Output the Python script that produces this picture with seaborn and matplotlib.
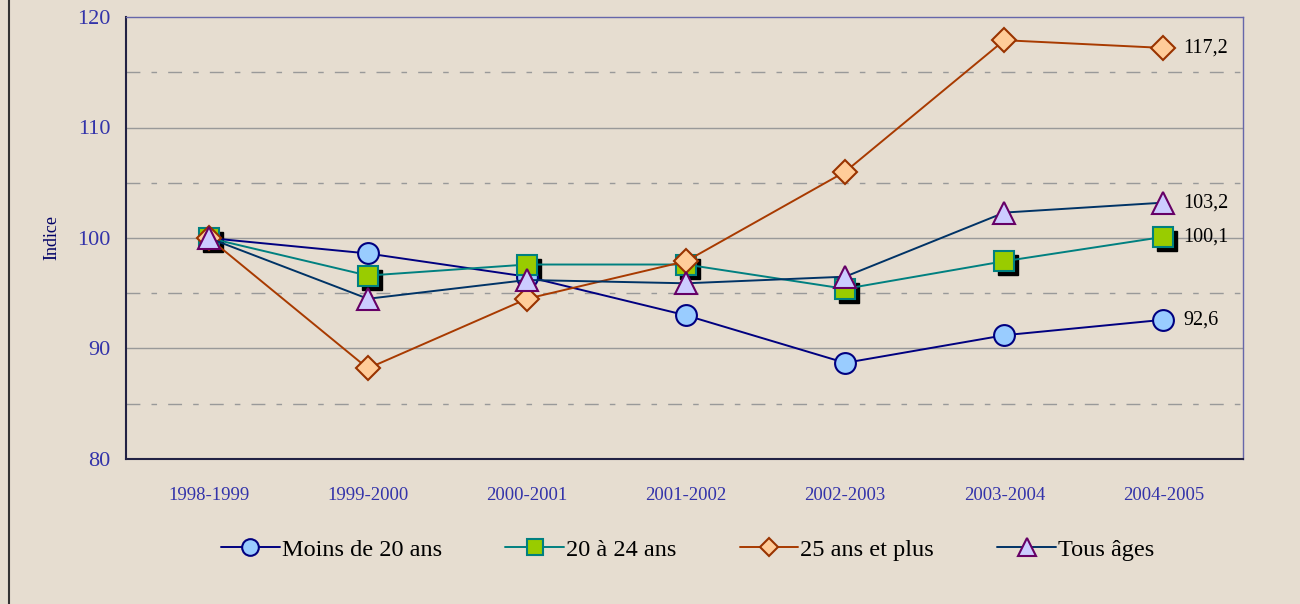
import numpy as np
import pandas as pd
import seaborn as sns
import matplotlib.pyplot as plt
import matplotlib.transforms as mtransforms
from matplotlib.lines import Line2D

# Données (indice base 100 en 1998-1999)
periodes = ["1998-1999", "1999-2000", "2000-2001", "2001-2002",
            "2002-2003", "2003-2004", "2004-2005"]
moins_20 = [100, 98.6, 96.5, 93.0, 88.7, 91.2, 92.6]
de_20_24 = [100, 96.6, 97.6, 97.6, 95.4, 97.9, 100.1]
plus_25 = [100, 88.2, 94.5, 97.9, 106.0, 117.9, 117.2]
tous_ages = [100, 94.5, 96.2, 95.9, 96.5, 102.3, 103.2]
etiquettes_fin = ["92,6", "100,1", "117,2", "103,2"]

FOND = "#E6DDD0"
BLEU_TXT = "#3333AA"

sns.set_style("white")
plt.rcParams["font.family"] = ["Liberation Serif", "DejaVu Serif"]
plt.rcParams["text.color"] = "black"

fig = plt.figure(figsize=(13, 6.04), dpi=100, facecolor=FOND)
ax = fig.add_axes([126 / 1300, 1 - 459 / 604, (1243 - 126) / 1300, (459 - 17) / 604])
ax.set_facecolor(FOND)

x = np.arange(len(periodes))

series = [
    ("Moins de 20 ans", moins_20, "#000080", "o", "#99CCFF", "#000080", 15),
    ("20 à 24 ans", de_20_24, "#008080", "s", "#99CC00", "#008080", 14),
    ("25 ans et plus", plus_25, "#A83A00", "D", "#FFCC99", "#993300", 12),
    ("Tous âges", tous_ages, "#003366", "^", "#CCCCFF", "#660066", 16),
]

# ombre des carrés
ombre = mtransforms.offset_copy(ax.transData, fig=fig, x=4, y=-4, units="dots")
ax.plot(x, de_20_24, ls="none", marker="s", ms=14, mfc="black", mec="black",
        transform=ombre, zorder=3)

for nom, vals, coul, mk, mfc, mec, ms in series:
    df = pd.DataFrame({"x": x, "y": vals})
    sns.lineplot(data=df, x="x", y="y", ax=ax, color=coul, lw=1.4,
                 marker=mk, markersize=ms, markerfacecolor=mfc,
                 markeredgecolor=mec, markeredgewidth=1.5, zorder=4, legend=False)

# étiquettes de fin
for (nom, vals, *_), txt in zip(series, etiquettes_fin):
    ax.annotate(txt, (x[-1], vals[-1]), xytext=(14, 0), textcoords="offset points",
                va="center", ha="left", fontsize=14.5, color="black")

# grilles
for v in [90, 100, 110]:
    ax.axhline(v, color="#999999", lw=1, zorder=1)
for v in [85, 95, 105, 115]:
    ax.axhline(v, color="#999999", lw=1, ls=(0, (10, 8, 4, 8)), zorder=1)

ax.set_ylim(80, 120)
ax.set_xlim(-0.52, 6.48)
ax.set_yticks([80, 90, 100, 110, 120])
ax.set_xticks(x)
ax.set_xticklabels(periodes)
ax.set_xticks(np.arange(-0.5, 7, 1), minor=True)
ax.tick_params(axis="x", which="major", length=0, pad=20, labelsize=13.5, labelcolor=BLEU_TXT)
ax.tick_params(axis="x", which="minor", length=5, direction="out", color="#222244")
ax.tick_params(axis="y", length=5, direction="out", color="#222244",
               labelsize=16, labelcolor=BLEU_TXT, pad=6)
ax.set_xlabel("")
ax.set_ylabel("Indice", color="#000066", fontsize=13, labelpad=12)

for s in ["left", "bottom"]:
    ax.spines[s].set_color("#222244")
    ax.spines[s].set_linewidth(1.5)
for s in ["top", "right"]:
    ax.spines[s].set_color("#6666AA")
    ax.spines[s].set_linewidth(1)

poignees = [Line2D([0], [0], color=c, lw=1.4, marker=m, ms=s * 0.8, mfc=f,
                   mec=e, mew=1.5) for _, _, c, m, f, e, s in series]
leg = ax.legend(poignees, [s[0] for s in series], loc="center",
                bbox_to_anchor=(0.503, -0.205), ncol=4, frameon=False,
                fontsize=17.5, handlelength=2.4, handletextpad=0.1, columnspacing=2.6)
for t in leg.get_texts():
    t.set_color("black")

# bordure gauche
fig.add_artist(Line2D([9 / 1300, 9 / 1300], [0, 1], transform=fig.transFigure,
                      color="#333333", lw=1.5))

fig.savefig("out.png", dpi=100, facecolor=FOND)
